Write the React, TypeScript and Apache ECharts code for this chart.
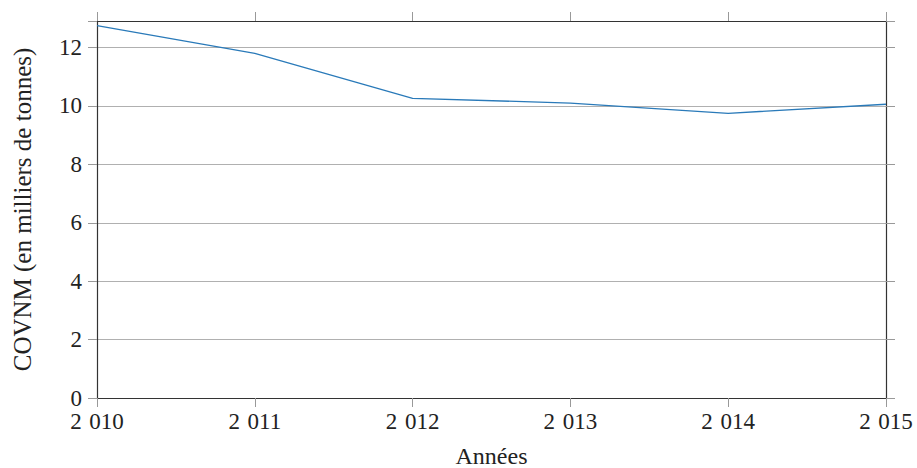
import React, { useEffect, useRef } from "react";
import * as echarts from "echarts";

const years = [2010, 2011, 2012, 2013, 2014, 2015];
const covnm = [12.75, 11.8, 10.26, 10.1, 9.75, 10.06];
const yTicks = [0, 2, 4, 6, 8, 10, 12];
const xTitle = "Années";
const yTitle = "COVNM (en milliers de tonnes)";

const FONT = "'Liberation Serif', 'DejaVu Serif', serif";

export default function App() {
  const ref = useRef<HTMLDivElement>(null);
  useEffect(() => {
    document.body.style.margin = "0";
    const chart = echarts.init(ref.current!, null, { renderer: "svg" });
    const fmtYear = (v: number) => {
      const s = String(Math.round(v));
      return s.slice(0, 1) + " \u200A" + s.slice(1);
    };
    const axisLine = { show: true, onZero: false, lineStyle: { color: "#333", width: 1.2 } };
    const tick = { show: true, inside: false, length: 9, lineStyle: { color: "#999", width: 1 } };
    chart.setOption({
      animation: false,
      grid: { left: 97, right: 31, top: 21, bottom: 70, containLabel: false, outerBoundsMode: "none" },
      xAxis: [
        {
          type: "value",
          min: years[0],
          max: years[years.length - 1],
          interval: 1,
          position: "bottom",
          name: xTitle,
          nameLocation: "middle",
          nameGap: 46,
          nameTextStyle: { fontFamily: FONT, fontSize: 24, color: "#222" },
          axisLine,
          axisTick: tick,
          axisLabel: { formatter: fmtYear, fontFamily: FONT, fontSize: 23, color: "#222", margin: 12 },
          splitLine: { show: false },
        },
        {
          type: "value",
          min: years[0],
          max: years[years.length - 1],
          interval: 1,
          position: "top",
          axisLine,
          axisTick: tick,
          axisLabel: { show: false },
          splitLine: { show: false },
        },
      ],
      yAxis: [
        {
          type: "value",
          min: 0,
          max: 12.91,
          interval: 2,
          position: "left",
          name: yTitle,
          nameLocation: "middle",
          nameGap: 62,
          nameTextStyle: { fontFamily: FONT, fontSize: 25, color: "#222" },
          axisLine,
          axisTick: tick,
          axisLabel: {
            fontFamily: FONT,
            fontSize: 23,
            color: "#222",
            margin: 15,
            formatter: (v: number) => (yTicks.includes(v) ? String(v) : ""),
          },
          splitLine: { show: true, lineStyle: { color: "#b0b0b0", width: 1 } },
        },
        {
          type: "value",
          min: 0,
          max: 12.91,
          interval: 2,
          position: "right",
          axisLine,
          axisTick: tick,
          axisLabel: { show: false },
          splitLine: { show: false },
        },
      ],
      series: [
        {
          type: "line",
          data: years.map((y, i) => [y, covnm[i]]),
          showSymbol: false,
          lineStyle: { color: "#2a7ab9", width: 1.3 },
          itemStyle: { color: "#2a7ab9" },
        },
      ],
    });
    return () => chart.dispose();
  }, []);
  return <div ref={ref} style={{ width: 917, height: 468 }} />;
}
